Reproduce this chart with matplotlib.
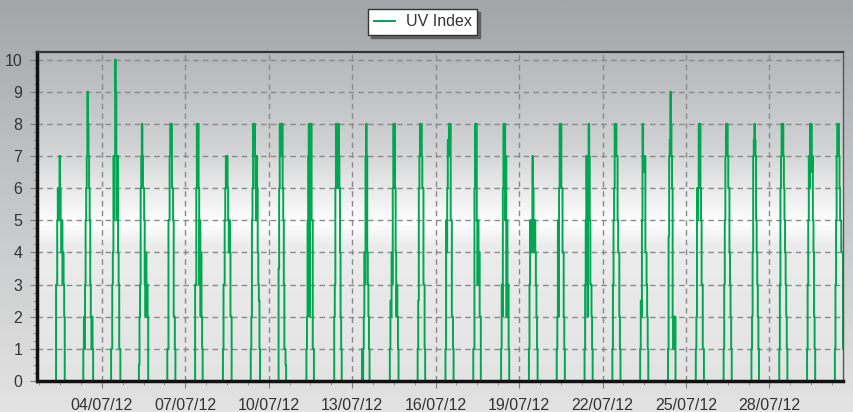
import numpy as np
import pandas as pd
import matplotlib
matplotlib.use("Agg")
import matplotlib.pyplot as plt
import matplotlib.dates as mdates
from matplotlib.ticker import MultipleLocator, FixedLocator
from matplotlib.colors import LinearSegmentedColormap

plt.rcParams["font.family"] = ["Liberation Sans", "DejaVu Sans"]

# UV index, half-hourly readings 07:00 .. 17:00, one row per day (02/07 .. 30/07)
first_day = "2012-07-02"
series_start = "2012-07-01 16:30"
uv_profiles = [
    [0, 0, 0, 3, 3, 5, 6, 5, 6, 7, 6, 5, 4, 5, 3, 4, 3, 2, 0, 0, 0],
    [0, 0, 1, 2, 1, 3, 5, 6, 7, 9, 8, 7, 6, 5, 3, 2, 1, 2, 1, 0, 0],
    [0, 0, 1, 1, 3, 4, 7, 5, 7, 10, 9, 7, 5, 7, 4, 3, 1, 1, 0, 0, 0],
    [0, 0, 0.5, 2, 3, 6, 7, 8, 7, 6, 6, 5, 3, 2, 4, 2, 3, 2, 0, 0, 0],
    [0, 0, 0, 1, 1, 5, 5, 7, 8, 8, 8, 6, 6, 5, 2, 2, 1, 0, 0, 0, 0],
    [0, 0, 0, 3, 3, 6, 8, 8, 8, 6, 3, 5, 2, 4, 2, 1, 0, 0, 0, 0, 0],
    [0, 0, 0, 1, 3, 3, 5, 6, 7, 6, 7, 6, 5, 4, 5, 4, 2, 2, 0, 0, 0],
    [0, 0, 0, 1, 2, 5, 6, 8, 7, 8, 7, 6, 5, 7, 6, 4, 3, 2.5, 1, 0, 0],
    [0, 0, 0, 3.5, 6, 8, 7, 8, 7, 8, 6, 5, 3, 1, 1, 0.5, 0, 0, 0, 0, 0],
    [0, 0, 0, 1, 2, 5, 7, 8, 2, 8, 7, 8, 5, 5, 1, 1, 0, 0, 0, 0, 0],
    [0, 0, 0, 2, 3, 6, 8, 7, 8, 6, 8, 7, 6, 4, 2, 1, 0, 0, 0, 0, 0],
    [0, 0, 0, 1, 0, 1, 2, 4, 3, 7, 8, 7, 4, 3, 2, 1, 0, 0, 0, 0, 0],
    [0, 0, 0, 1, 2.5, 2, 4, 3, 6, 8, 7, 8, 6, 4, 2, 3, 2, 1, 0, 0, 0],
    [0, 0, 0, 1, 2.5, 6, 7, 8, 7, 8, 7, 6, 6, 3, 3, 1, 0, 0, 0, 0, 0],
    [0, 0, 0, 1, 5, 4, 6, 7.5, 7, 8, 7.5, 8, 5, 5, 2, 2, 1, 0, 0, 0, 0],
    [0, 0, 0, 1, 1, 6, 8, 8, 8, 5, 3, 5, 3, 4, 2, 2, 0, 0, 0, 0, 0],
    [0, 0, 0, 1, 3, 2, 6, 8, 7, 8, 5, 7, 2, 5, 3, 3, 1, 0, 0, 0, 0],
    [0, 0, 0, 1, 3, 5, 4, 5, 4, 7, 6, 5, 4, 5, 4, 3, 2, 1, 0, 0, 0],
    [0, 0, 0, 1, 2, 5, 2, 6, 8, 7, 8, 6, 6, 4, 4, 2, 1, 0, 0, 0, 0],
    [0, 0, 0, 1, 3, 5, 7, 6, 2, 7, 8, 7, 5, 3, 3, 2, 1, 0, 0, 0, 0],
    [0, 0, 0, 1, 3, 5, 6, 8, 7, 8, 7, 7, 5, 4, 4, 2, 1, 0, 0, 0, 0],
    [0, 0, 0, 1, 2.5, 2, 5, 8, 6.5, 7, 6.5, 7, 4, 4, 3, 2, 1, 0, 0, 0, 0],
    [0, 0, 0, 1, 4.5, 7, 7.5, 9, 8, 7, 6, 2, 1, 2, 1, 2, 0, 0, 0, 0, 0],
    [0, 0, 0, 1, 2, 6, 5, 6, 8, 8, 8, 6, 5, 3, 3, 1, 1, 0, 0, 0, 0],
    [0, 0, 0, 1, 3, 5, 7, 8, 8, 8, 7, 6, 6, 4, 3, 2, 1, 0, 0, 0, 0],
    [0, 0, 0, 1, 2, 4, 7, 7.5, 8, 7.5, 7, 5, 4, 3, 2, 1, 0, 0, 0, 0, 0],
    [0, 0, 0, 1, 3, 6, 7, 8, 8, 8, 7, 6, 5, 4, 3, 2, 1, 0, 0, 0, 0],
    [0, 0, 0, 1, 3, 5, 7, 6, 8, 7, 8, 6.5, 7, 5, 4, 2, 1, 0, 0, 0, 0],
    [0, 0, 0, 1, 3, 5, 7, 8, 8, 8, 7, 6, 5, 5, 4, 4, 4, 1],
]
major_dates = pd.date_range("2012-07-04", "2012-07-28", freq="3D")
minor_dates = pd.date_range("2012-07-01 18:00", "2012-07-30 15:00", freq="18h")

# build time series
times = [pd.Timestamp(series_start)]
values = [0]
days = pd.date_range(first_day, periods=len(uv_profiles), freq="D")
for day, prof in zip(days, uv_profiles):
    t = day + pd.Timedelta(hours=7) + pd.to_timedelta(np.arange(len(prof)) * 30, unit="min")
    times.extend(t)
    values.extend(prof)

W, H = 854, 412
fig = plt.figure(figsize=(W / 100, H / 100), dpi=100)

# figure background gradient
bg = fig.add_axes([0, 0, 1, 1], zorder=-2)
bg_cmap = LinearSegmentedColormap.from_list("bg", [(0, "#a4a5a8"), (0.35, "#bdbec0"), (1, "#e3e3e3")])
bg.imshow(np.linspace(0, 1, 256).reshape(-1, 1), cmap=bg_cmap, aspect="auto", extent=[0, 1, 0, 1])
bg.axis("off")

pos = [37.5 / W, 31 / H, (843 - 37.5) / W, (381 - 51.5) / H]
pbg = fig.add_axes(pos, zorder=-1)
p_cmap = LinearSegmentedColormap.from_list(
    "pbg", [(0, "#b5b6b8"), (0.3, "#d2d3d4"), (0.47, "#f4f4f4"), (0.52, "#ffffff"),
            (0.59, "#ececec"), (1, "#e3e3e3")])
pbg.imshow(np.linspace(0, 1, 256).reshape(-1, 1), cmap=p_cmap, aspect="auto", extent=[0, 1, 0, 1])
pbg.axis("off")

ax = fig.add_axes(pos)
ax.patch.set_visible(False)
ax.plot(times, values, drawstyle="steps-post", color="#00a651", lw=1.4, label="UV Index", zorder=2)

ax.set_xlim(times[0], times[-1])
ax.set_ylim(0, 10.25)

ax.xaxis.set_major_locator(FixedLocator(mdates.date2num(major_dates)))
ax.xaxis.set_minor_locator(FixedLocator(mdates.date2num(minor_dates)))
ax.xaxis.set_major_formatter(mdates.DateFormatter("%d/%m/%y"))
ax.yaxis.set_major_locator(MultipleLocator(1))
ax.yaxis.set_minor_locator(MultipleLocator(0.25))

ax.grid(True, which="major", color="#8a8a8a", linestyle=(0, (4, 3)), lw=1.0, zorder=1)
ax.set_axisbelow(True)

ax.tick_params(axis="both", which="major", length=5, color="#7a7a7a", labelsize=11.5,
               labelcolor="#333333")
ax.tick_params(axis="both", which="minor", length=3, color="#8a8a8a")
ax.tick_params(axis="x", which="major", pad=7)
ax.tick_params(axis="y", which="major", pad=6)

for s in ("left", "bottom"):
    ax.spines[s].set_linewidth(2.5)
    ax.spines[s].set_color("#111111")
ax.spines["top"].set_linewidth(1.6)
ax.spines["top"].set_color("#333333")
ax.spines["right"].set_linewidth(1.0)
ax.spines["right"].set_color("#555555")
for sp in ax.spines.values():
    sp.set_zorder(4)

leg = fig.legend(loc="center", bbox_to_anchor=(423 / W, 1 - 22 / H), fontsize=11.5,
                 frameon=True, fancybox=False, shadow={"color": "#555555", "alpha": 0.8},
                 handlelength=1.3, handletextpad=0.7, borderpad=0.35, borderaxespad=0)
leg.get_frame().set_edgecolor("#333333")
leg.get_frame().set_linewidth(1.0)
for txt in leg.get_texts():
    txt.set_color("#333333")

fig.savefig("out.png", dpi=100)
